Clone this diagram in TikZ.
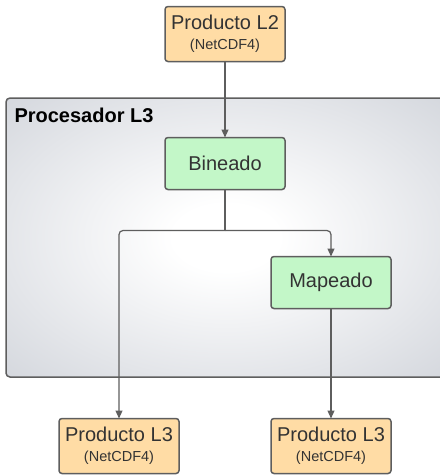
\documentclass[tikz,border=0pt]{standalone}
\usepackage{fontspec}
\setmainfont{Liberation Sans}
\usetikzlibrary{positioning,arrows.meta}

\definecolor{prodfill}{HTML}{FFDCA5}
\definecolor{stepfill}{HTML}{C3F7C8}
\definecolor{edgegray}{HTML}{5E5E5E}
\definecolor{textgray}{HTML}{333333}
\definecolor{procgray}{HTML}{C7CBD3}
\definecolor{procdark}{HTML}{ABB0BC}

% soft grey background of the processor block
\pgfdeclareradialshading{procshade}{\pgfpoint{0bp}{0bp}}{%
  color(0bp)=(white); color(6bp)=(white);
  color(45bp)=(procgray); color(71bp)=(procdark)}

\begin{document}
\begin{tikzpicture}[x=1pt,y=1pt,
  box/.style={draw=edgegray,line width=1.5pt,rounded corners=3pt,
    text=textgray,align=center,minimum width=120pt,inner sep=0pt,
    outer sep=0pt},
  product/.style={box,fill=prodfill,minimum height=55pt,
    font=\fontsize{20}{21}\selectfont},
  stepbox/.style={box,fill=stepfill,minimum height=52pt,
    font=\fontsize{20}{24}\selectfont},
  link/.style={draw=edgegray,line width=1.2pt,rounded corners=4pt},
  flow/.style={link,-{Triangle[length=8pt,width=7pt]}}]
  \useasboundingbox (0,0) rectangle (440,-475);

  % processor block (runs past the right edge)
  \node (proc) [draw=edgegray,line width=1.5pt,rounded corners=4pt,
    shading=procshade,minimum width=440pt,minimum height=279pt,
    inner sep=0pt] at (226,-237.5) {};
  \node (title) [anchor=west,font=\fontsize{20}{24}\selectfont\bfseries]
    at (11,-115) {Procesador L3};

  \newcommand{\subline}[1]{\\[-1pt]{\fontsize{14.5}{16}\selectfont #1}}
  \node[product] (l2) at (225,-34) {Producto L2\subline{(NetCDF4)}};
  \node[stepbox] (bin) [below=76pt of l2] {Bineado};
  \node[stepbox] (map) [below=67pt of bin,xshift=106pt] {Mapeado};
  \node[product] (l3b) [below=110pt of map] {Producto L3\subline{(NetCDF4)}};
  \node[product] (l3a) [left=92pt of l3b] {Producto L3\subline{(NetCDF4)}};

  \coordinate (split) at ([yshift=-41pt]bin.south);
  \draw[flow] (l2) -- (bin);
  \draw[link] (bin) -- (split);
  \draw[flow] (split) -| (map);
  \draw[flow] (split) -| (l3a);
  \draw[flow] (map) -- (l3b);
\end{tikzpicture}
\end{document}
